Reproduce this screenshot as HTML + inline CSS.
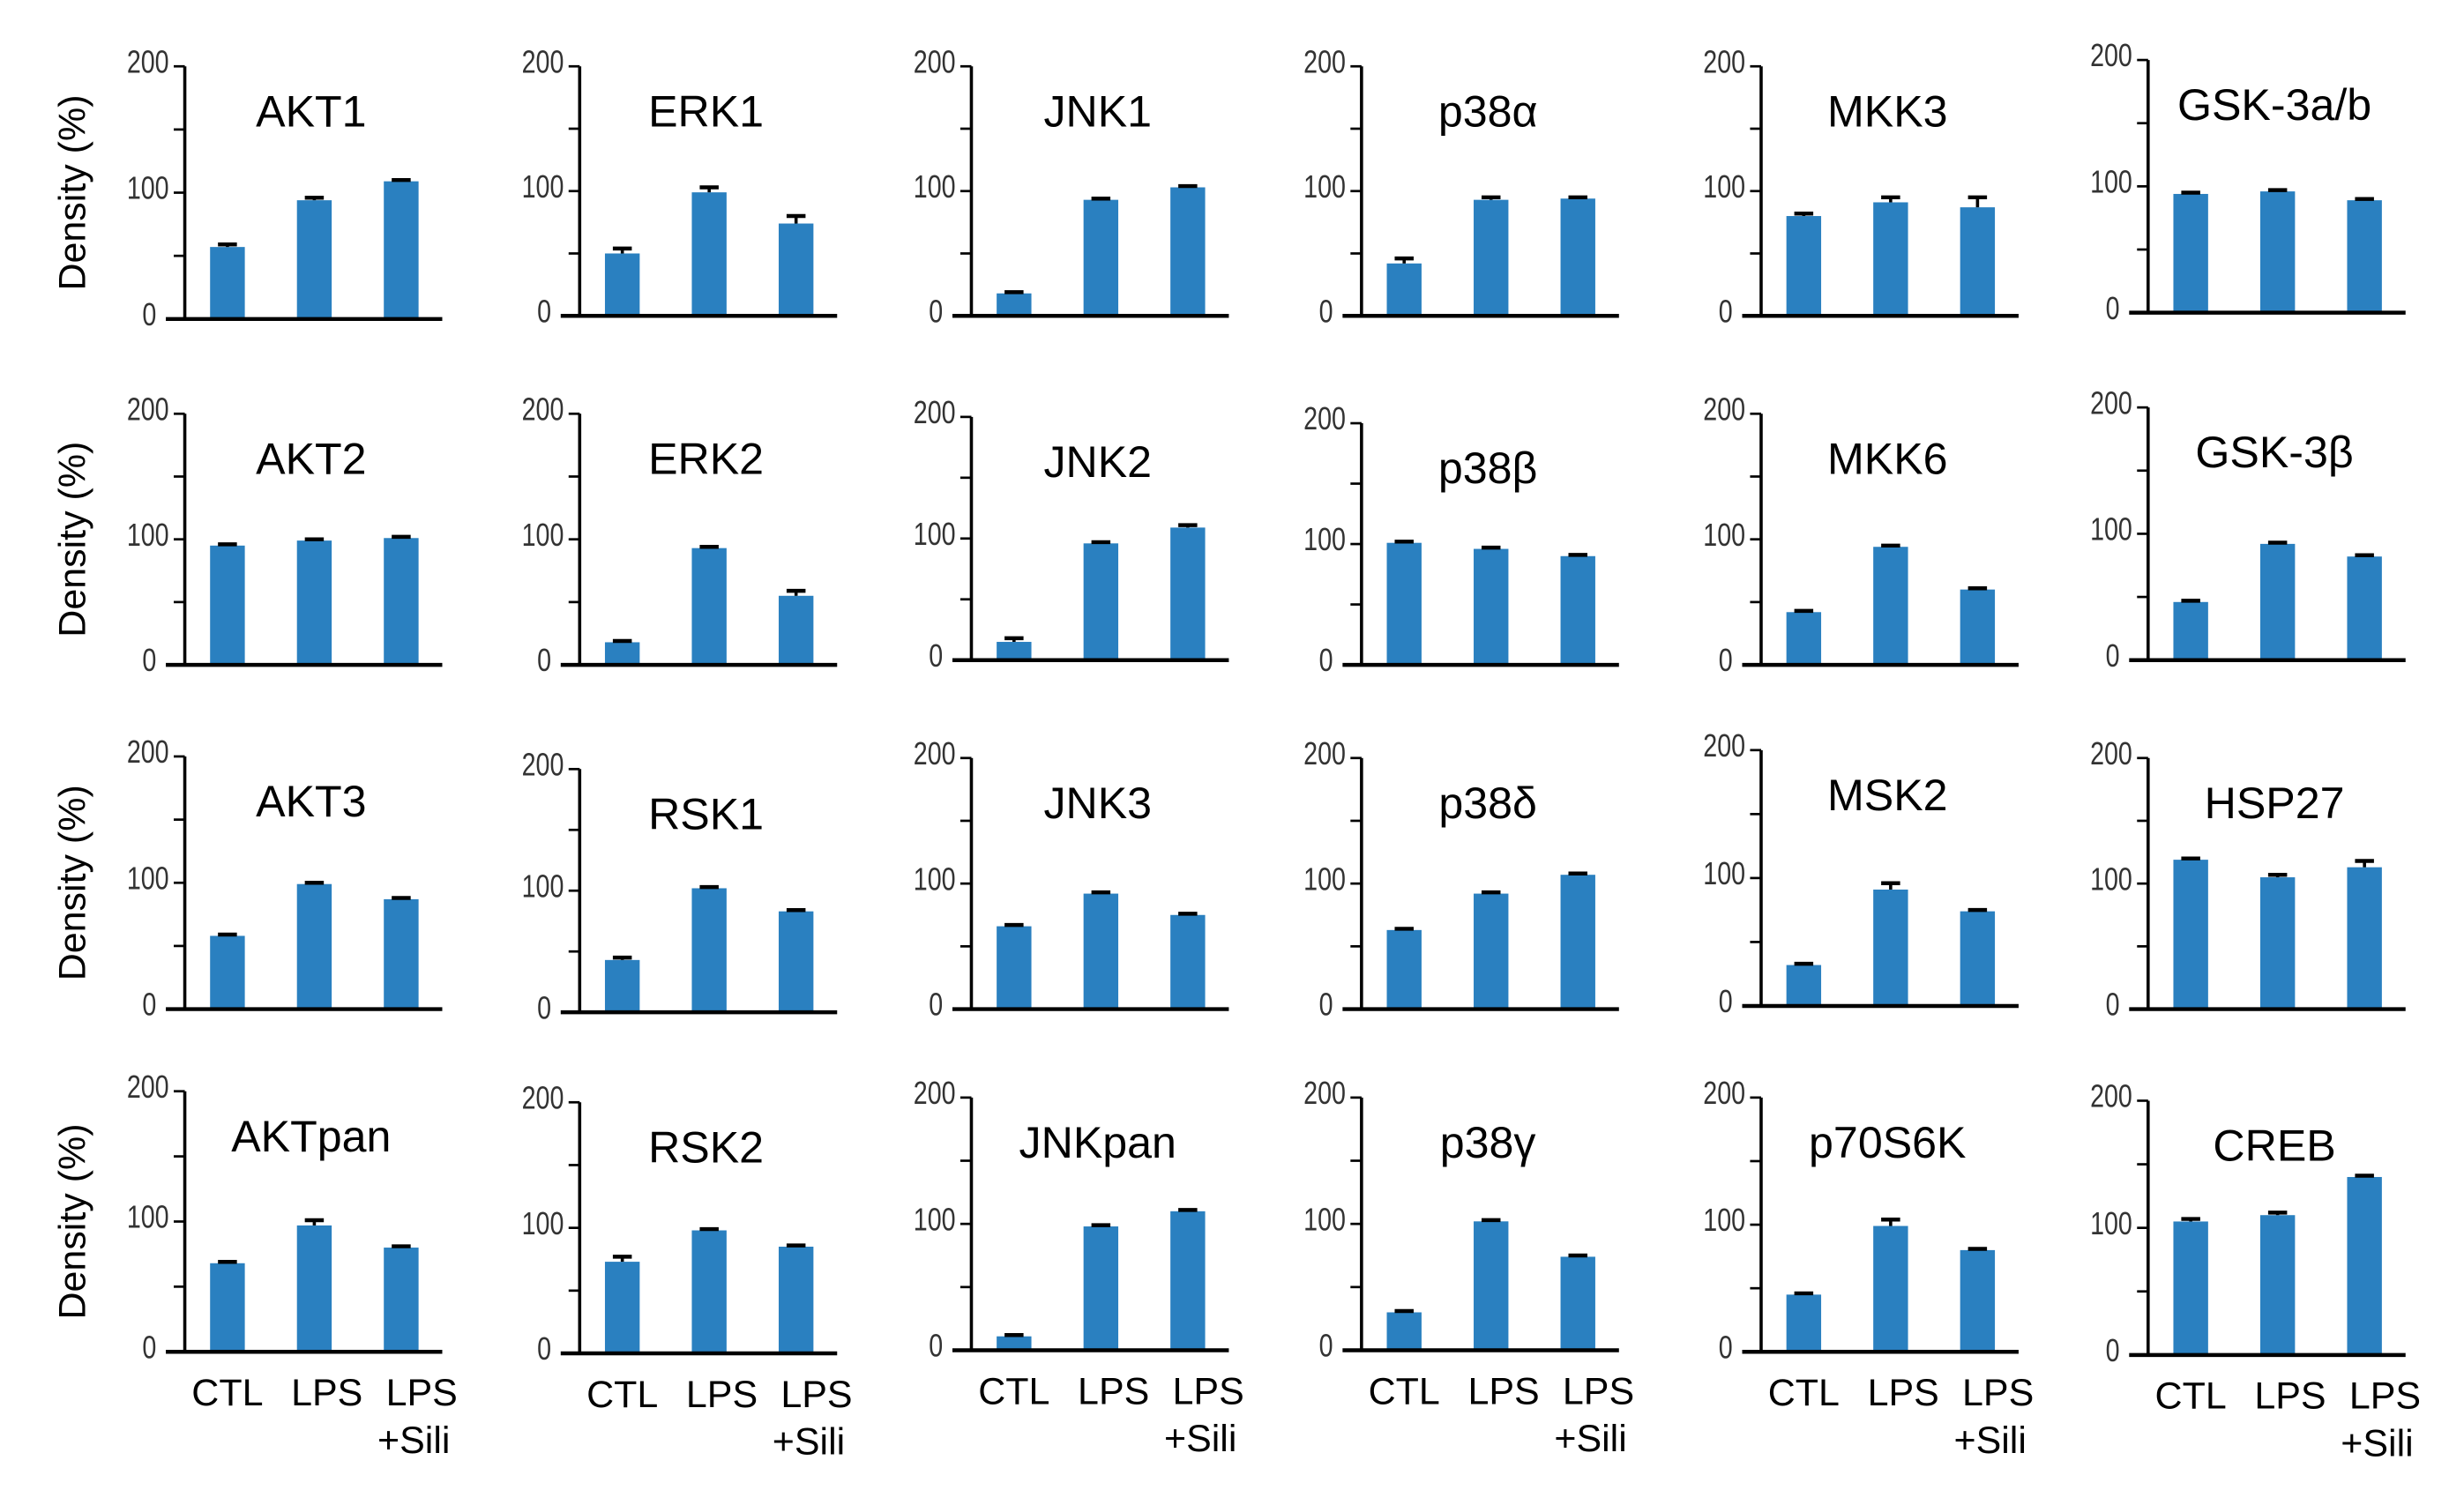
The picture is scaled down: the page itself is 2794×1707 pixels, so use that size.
<!DOCTYPE html>
<html><head><meta charset="utf-8">
<style>
html,body{margin:0;padding:0;background:#fff;}
svg{display:block;}
text{font-family:"Liberation Sans",Arial,sans-serif;}
</style></head>
<body>
<svg id="fig" width="2794" height="1707" viewBox="0 0 1560 953" preserveAspectRatio="none" xmlns="http://www.w3.org/2000/svg"></svg>
<script>
const titles = ["AKT1","ERK1","JNK1","p38α","MKK3","GSK-3a/b",
 "AKT2","ERK2","JNK2","p38β","MKK6","GSK-3β",
 "AKT3","RSK1","JNK3","p38δ","MSK2","HSP27",
 "AKTpan","RSK2","JNKpan","p38γ","p70S6K","CREB"];
const ctlValues = [57,50,18,42,80,94, 95,18,15,101,42,46, 58,43,66,63,32,119, 68,73,11,30,45,105];
const lpsValues = [94,99,93,93,91,96, 99,93,96,96,94,92, 99,102,92,92,91,105, 97,98,98,102,99,110];
const siliValues = [109,74,103,94,87,89, 101,55,109,90,60,82, 87,83,75,107,74,113, 80,85,110,74,80,140];
const ctlErr = [2,4,1,4,2,1, 1,1,3,1,1,1, 1,2,1,1,1,1, 1,4,1,1,1,2];
const lpsErr = [2,4,1,2,4,1, 1,1,1,1,1,1, 1,1,1,1,5,2, 4,1,1,1,5,2];
const siliErr = [1,6,1,1,8,1, 1,4,2,1,1,1, 1,1,1,1,1,5, 1,1,1,1,1,1];
const categories = ["CTL","LPS","LPS"];
const tickValues = [0,50,100,150,200];
const tickLabels = ["0","","100","","200"];

const axisX = [117,367,615,862,1115,1360];
const rowTop = [[42,42,42,42,42,38],[262,262,264,268,262,258],[479,487,480,480,475,480],[691,698,695,695,695,697]];
const rowBase = [[202,200,200,200,200,198],[421,421,418,421,421,418],[639,641,639,639,637,639],[856,857,855,855,856,858]];
const barOff = [27,82,137], barW = 22;
const NS = "http://www.w3.org/2000/svg";
const svg = document.getElementById("fig");
function mk(tag, attrs, parent){const e=document.createElementNS(NS,tag);for(const k in attrs)e.setAttribute(k,attrs[k]);(parent||svg).appendChild(e);return e;}

for(let p=0;p<24;p++){
  const r=Math.floor(p/6), c=p%6;
  const ax=axisX[c], top=rowTop[r][c], base=rowBase[r][c];
  const y = v => base - (v/200)*(base-top);
  const g = mk("g",{});
  
  
  const vals=[ctlValues[p],lpsValues[p],siliValues[p]];
  const errs=[ctlErr[p],lpsErr[p],siliErr[p]];
  for(let i=0;i<3;i++){
    const cx=ax+barOff[i];
    const b=mk("rect",{x:cx-barW/2,y:y(vals[i]),width:barW,height:base-y(vals[i]),fill:"#2a80c0"},g);
    
    
    const et=y(vals[i]+errs[i]);
    const e1=mk("line",{x1:cx,x2:cx,y1:et,y2:y(vals[i]),stroke:"#000","stroke-width":2},g);
    
    
    const e2=mk("line",{x1:cx-6,x2:cx+6,y1:et,y2:et,stroke:"#000","stroke-width":2.5},g);
    
    
  }
  const ya=mk("line",{x1:ax,x2:ax,y1:top,y2:base,stroke:"#000","stroke-width":2},g);
  
  
  const xa=mk("line",{x1:ax-12,x2:ax+163,y1:base,y2:base,stroke:"#000","stroke-width":2.5},g);
  
  
  for(let t=0;t<tickValues.length;t++){
    const ty=y(tickValues[t]);
    const tk=mk("line",{x1:ax-7,x2:ax,y1:ty,y2:ty,stroke:"#000","stroke-width":1.5},g);
    
    
    if(tickLabels[t]){
      const lx = tickValues[t]===0 ? ax-18 : ax-10;
      const tl=mk("text",{x:lx,y:ty+4,"text-anchor":"end","font-size":20,fill:"#333",transform:`translate(${lx},0) scale(0.8,1) translate(${-lx},0)`},g);
      tl.textContent=tickLabels[t];
      
      
    }
  }
  const tt=mk("text",{x:ax+80,y:top+38,"text-anchor":"middle","font-size":28,fill:"#000"},g);
  tt.textContent=titles[p];
  
  
  if(c===0){
    const cy=(top+base)/2;
    const yt=mk("text",{x:0,y:0,"text-anchor":"middle","font-size":24,fill:"#000",transform:`translate(54,${cy}) rotate(-90)`},g);
    yt.textContent="Density (%)";
    
    
  }
  if(r===3){
    const xs=[ax+27,ax+90,ax+150];
    for(let i=0;i<3;i++){
      const xl=mk("text",{x:xs[i],y:base+34,"text-anchor":"middle","font-size":24,fill:"#000"},g);
      xl.textContent=categories[i];
      
      
    }
    const sl=mk("text",{x:ax+145,y:base+64,"text-anchor":"middle","font-size":24,fill:"#000"},g);
    sl.textContent="+Sili";
    
    
  }
}
</script>
</body></html>
